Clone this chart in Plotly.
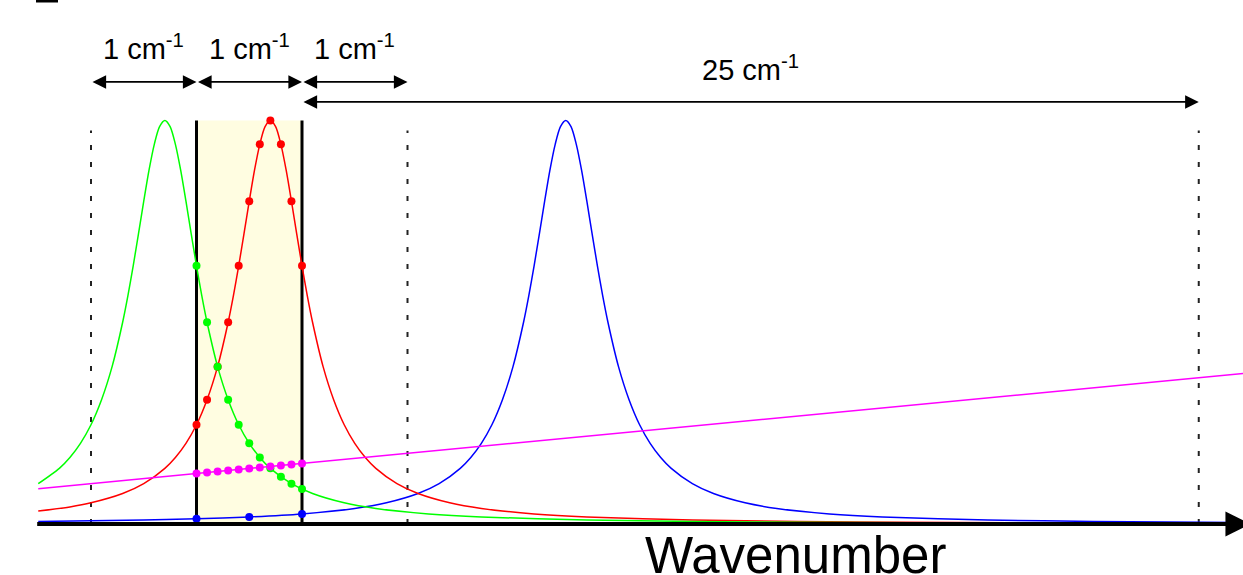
import plotly.graph_objects as go

# ---------------- data ----------------
green_x = [-0.5, -0.3, -0.2, -0.1, 0.0, 0.1, 0.2, 0.3, 0.35, 0.4, 0.45, 0.5, 0.55, 0.6, 0.65, 0.7,
           0.75, 0.8, 0.85, 0.9, 0.95, 1.0, 1.05, 1.1, 1.2, 1.3, 1.4, 1.5, 1.6, 1.7, 1.9, 2.1, 2.4,
           2.7, 3.2, 3.7, 4.7, 5.7, 6.7, 8.7, 10.9]
green_y = [0.100, 0.138, 0.165, 0.200, 0.246, 0.308, 0.390, 0.500, 0.566, 0.640, 0.719, 0.800, 0.877,
           0.941, 0.985, 1.000, 0.985, 0.941, 0.877, 0.800, 0.719, 0.640, 0.566, 0.500, 0.390, 0.308,
           0.246, 0.200, 0.165, 0.138, 0.100, 0.0755, 0.0525, 0.0385, 0.025, 0.0175, 0.0099, 0.0064,
           0.0044, 0.0025, 0.0015]

red_x = [-0.5, -0.2, 0.0, 0.3, 0.5, 0.7, 0.8, 0.9, 1.0, 1.1, 1.2, 1.3, 1.35, 1.4, 1.45, 1.5, 1.55,
         1.6, 1.65, 1.7, 1.75, 1.8, 1.85, 1.9, 1.95, 2.0, 2.05, 2.1, 2.2, 2.3, 2.4, 2.5, 2.6, 2.7,
         2.9, 3.1, 3.4, 3.7, 4.2, 4.7, 5.7, 6.7, 7.7, 9.7, 10.9]
red_y = [0.032, 0.0424, 0.0525, 0.0755, 0.100, 0.138, 0.165, 0.200, 0.246, 0.308, 0.390, 0.500, 0.566,
         0.640, 0.719, 0.800, 0.877, 0.941, 0.985, 1.000, 0.985, 0.941, 0.877, 0.800, 0.719, 0.640,
         0.566, 0.500, 0.390, 0.308, 0.246, 0.200, 0.165, 0.138, 0.100, 0.0755, 0.0525, 0.0385,
         0.025, 0.0175, 0.0099, 0.0064, 0.0044, 0.0025, 0.0019]

blue_x = [-0.5, 0.5, 1.0, 1.5, 2.0, 2.5, 2.8, 3.1, 3.3, 3.5, 3.6, 3.7, 3.8, 3.9, 4.0, 4.1, 4.15, 4.2,
          4.25, 4.3, 4.35, 4.4, 4.45, 4.5, 4.55, 4.6, 4.65, 4.7, 4.75, 4.8, 4.85, 4.9, 5.0, 5.1, 5.2,
          5.3, 5.4, 5.5, 5.7, 5.9, 6.2, 6.5, 7.0, 7.5, 8.5, 9.5, 10.9]
blue_y = [0.0064, 0.0099, 0.0129, 0.0175, 0.025, 0.0385, 0.0525, 0.0755, 0.100, 0.138, 0.165, 0.200,
          0.246, 0.308, 0.390, 0.500, 0.566, 0.640, 0.719, 0.800, 0.877, 0.941, 0.985, 1.000, 0.985,
          0.941, 0.877, 0.800, 0.719, 0.640, 0.566, 0.500, 0.390, 0.308, 0.246, 0.200, 0.165, 0.138,
          0.100, 0.0755, 0.0525, 0.0385, 0.025, 0.0175, 0.0099, 0.0064, 0.0039]

magenta_x = [-0.5, 11.0]
magenta_y = [0.0875, 0.375]

dot_x = [1.0, 1.1, 1.2, 1.3, 1.4, 1.5, 1.6, 1.7, 1.8, 1.9, 2.0]
red_dots = [0.246, 0.308, 0.390, 0.500, 0.640, 0.800, 0.941, 1.000, 0.941, 0.800, 0.640]
green_dots = [0.640, 0.500, 0.390, 0.308, 0.246, 0.200, 0.165, 0.138, 0.117, 0.100, 0.0865]
magenta_dots = [0.125, 0.1275, 0.130, 0.1325, 0.135, 0.1375, 0.140, 0.1425, 0.145, 0.1475, 0.150]
blue_dot_x = [1.0, 1.5, 2.0]
blue_dots = [0.0129, 0.0175, 0.025]

dashed_x = [0.0, 3.0, 10.5]
window_x = [1.0, 2.0]
span_labels = ["1 cm<sup>-1</sup>", "1 cm<sup>-1</sup>", "1 cm<sup>-1</sup>", "25 cm<sup>-1</sup>"]
span_starts = [0.0, 1.0, 2.0, 2.0]
span_ends = [1.0, 2.0, 3.0, 10.5]
span_rows = [1.0955, 1.0955, 1.0955, 1.046]
label_rows = [1.1326, 1.1326, 1.1326, 1.0806]
axis_title = "Wavenumber"

# ---------------- figure ----------------
W, H = 1243, 575
X_RANGE = [-91 / 105.5, 1152 / 105.5]
Y_RANGE = [-51 / 403.5, 524 / 403.5]

fig = go.Figure()

def curve(x, y, color):
    fig.add_trace(go.Scatter(x=x, y=y, mode="lines",
                             line=dict(color=color, width=1.5, shape="spline", smoothing=0.8),
                             hoverinfo="skip", showlegend=False))

def dots(x, y, color):
    fig.add_trace(go.Scatter(x=x, y=y, mode="markers",
                             marker=dict(color=color, size=8, line=dict(width=0)),
                             hoverinfo="skip", showlegend=False))

curve(blue_x, blue_y, "#0000FF")
curve(red_x, red_y, "#FF0000")
curve(green_x, green_y, "#00FF00")
fig.add_trace(go.Scatter(x=magenta_x, y=magenta_y, mode="lines",
                         line=dict(color="#FF00FF", width=1.5), hoverinfo="skip", showlegend=False))
dots(dot_x, red_dots, "#FF0000")
dots(dot_x, green_dots, "#00FF00")
dots(dot_x, magenta_dots, "#FF00FF")
dots(blue_dot_x, blue_dots, "#0000FF")

shapes = []
# highlighted window
shapes.append(dict(type="rect", xref="x", yref="y", x0=window_x[0], x1=window_x[1], y0=0, y1=1.0,
                   fillcolor="#FFFDE1", line=dict(width=0), layer="below"))
for xv in dashed_x:
    shapes.append(dict(type="line", xref="x", yref="y", x0=xv, x1=xv, y0=0, y1=0.975,
                       line=dict(color="#222222", width=2, dash="5px,12px"), layer="below"))
for xv in window_x:
    shapes.append(dict(type="line", xref="x", yref="y", x0=xv, x1=xv, y0=0, y1=1.0,
                       line=dict(color="black", width=3), layer="below"))
# x axis line
shapes.append(dict(type="line", xref="x", yref="y", x0=-0.51, x1=10.75, y0=0, y1=0,
                   line=dict(color="black", width=4), layer="above"))
# small black mark at top-left
shapes.append(dict(type="rect", xref="paper", yref="paper", x0=36 / W, x1=58 / W,
                   y0=1 - 2.5 / H, y1=1.0, fillcolor="black", line=dict(width=0), layer="above"))

annotations = []
font = dict(family="Liberation Sans, Arial, sans-serif", size=29, color="black")
for s, e, r, lr, lab in zip(span_starts, span_ends, span_rows, label_rows, span_labels):
    annotations.append(dict(x=e, y=r, ax=s, ay=r, xref="x", yref="y", axref="x", ayref="y",
                            text="", showarrow=True, arrowside="end+start",
                            arrowhead=2, startarrowhead=2, arrowsize=1.6, startarrowsize=1.6,
                            arrowwidth=1.7, arrowcolor="black", standoff=0, startstandoff=0))
    annotations.append(dict(x=(s + e) / 2, y=lr, xref="x", yref="y", text=lab, showarrow=False,
                            xanchor="center", yanchor="bottom", font=font))
# axis arrowhead
annotations.append(dict(x=10.99, y=0, ax=10.6, ay=0, xref="x", yref="y", axref="x", ayref="y",
                        text="", showarrow=True, arrowhead=2, arrowsize=1.25, arrowwidth=4,
                        arrowcolor="black", standoff=0))
annotations.append(dict(x=(795 - 91) / 105.5, y=-0.079, xref="x", yref="y", text=axis_title,
                        showarrow=False, xanchor="center", yanchor="middle",
                        font=dict(family="Liberation Sans, Arial, sans-serif", size=51, color="black")))

fig.update_layout(
    width=W, height=H, autosize=False,
    margin=dict(l=0, r=0, t=0, b=0, pad=0),
    paper_bgcolor="white", plot_bgcolor="white",
    xaxis=dict(range=X_RANGE, visible=False, fixedrange=True),
    yaxis=dict(range=Y_RANGE, visible=False, fixedrange=True),
    shapes=shapes, annotations=annotations, showlegend=False,
)

fig.write_html("out.html", config={"displayModeBar": False, "staticPlot": True},
               post_script="document.body.style.margin='0';document.body.style.overflow='hidden';")
